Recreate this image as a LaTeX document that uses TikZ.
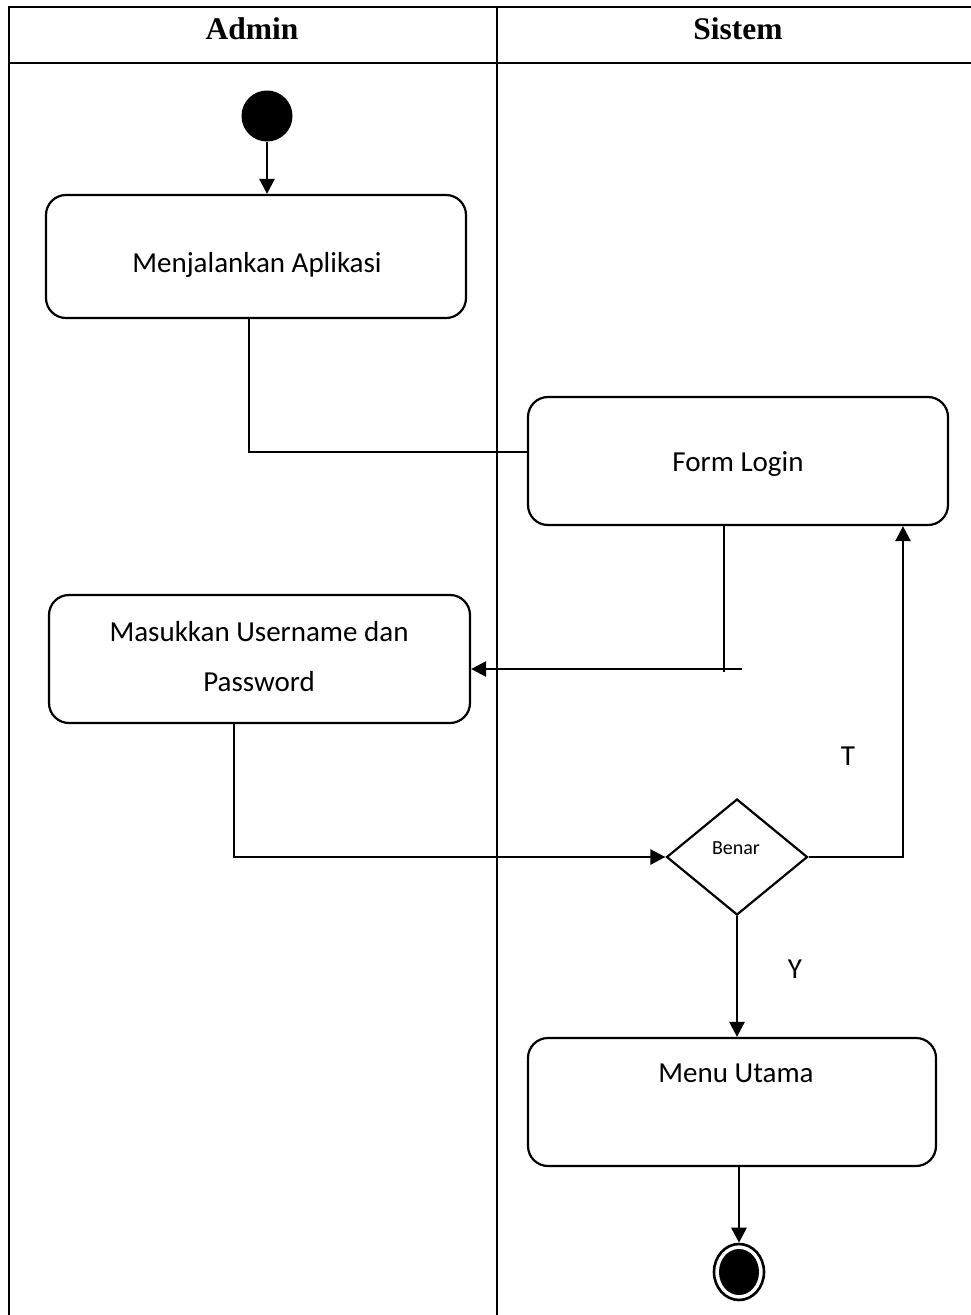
\documentclass[tikz,border=0pt]{standalone}
\usepackage{fontspec}
\setmainfont{Carlito}
\newfontfamily\hdfont{Liberation Serif}
\usetikzlibrary{arrows.meta,shapes.geometric}
\tikzset{
  tbl/.style={line width=2.4pt},
  actbox/.style={draw,line width=2.2pt,rounded corners=20pt,inner sep=0pt},
  conn/.style={line width=2.6pt},
  arr/.style={line width=2.6pt,-{Triangle[length=15pt,width=15pt]}},
  lbl/.style={font=\fontsize{29}{50}\selectfont,inner sep=0pt,align=center},
  hdr/.style={font=\hdfont\bfseries\fontsize{31.5}{36}\selectfont,inner sep=0pt},
}
\begin{document}
\begin{tikzpicture}[x=1pt,y=-1pt]
\useasboundingbox (0,0) rectangle (971,1315);
\clip (0,0) rectangle (971,1315);
% swimlane table
\draw[tbl] (9,1330) -- (9,7) -- (985,7);
\draw[tbl] (9,63) -- (985,63);
\draw[tbl] (497,7) -- (497,1330);
\node[hdr] (hA) at (252,29) {Admin};
\node[hdr] (hS) at (738,29) {Sistem};
% initial and final states
\node[circle,fill=black,minimum size=51pt,inner sep=0pt] (start) at (267,116) {};
\node[ellipse,draw,line width=2.6pt,minimum width=50pt,minimum height=56pt,inner sep=0pt] (fin) at (739,1272) {};
\node[ellipse,fill=black,minimum width=40pt,minimum height=46pt,inner sep=0pt] (finin) at (739,1272) {};
% activities
\node[actbox,minimum width=420pt,minimum height=123pt] (b1) at (256,256.5) {};
\node[lbl] (t1) at (257,265) {Menjalankan Aplikasi};
\node[actbox,minimum width=420pt,minimum height=128pt] (b2) at (738,461) {};
\node[lbl] (t2) at (738,464) {Form Login};
\node[actbox,minimum width=421pt,minimum height=128pt] (b3) at (259.5,659) {};
\node[lbl] (t3) at (259,657) {Masukkan Username dan\\Password};
\node[actbox,minimum width=408pt,minimum height=128pt] (b4) at (732,1102) {};
\node[lbl] (t4) at (736,1073) {Menu Utama};
% decision
\node[diamond,draw,line width=2.2pt,minimum width=141pt,minimum height=116pt,inner sep=0pt] (dia) at (737,857) {};
\node[font=\fontsize{20}{24}\selectfont,inner sep=0pt] (tb) at (736,848) {Benar};
\node[lbl] (lt) at (848,756) {T};
\node[lbl] (ly) at (795,969) {Y};
% bend points of the connectors
\coordinate (k1) at (249,452);
\coordinate (k2) at (724,672);
\coordinate (k3) at (742,669);
\coordinate (k4) at (234,858);
\coordinate (k5) at (903,853);
% connectors
\draw[arr] (start.south) -- (start.south |- b1.north);
\draw[conn] (b1.south -| k1) -- (k1) -- (b2.west |- k1);
\draw[conn] (b2.south -| k2) -- (k2);
\draw[arr] (k3) -- (b3.east |- k3);
\draw[arr] (b3.south -| k4) |- (dia.west);
\draw[arr] (dia.east) -| (b2.south -| k5);
\draw[arr] (dia.south) -- (dia.south |- b4.north);
\draw[arr] (fin.north |- b4.south) -- (fin.north);
\end{tikzpicture}
\end{document}
